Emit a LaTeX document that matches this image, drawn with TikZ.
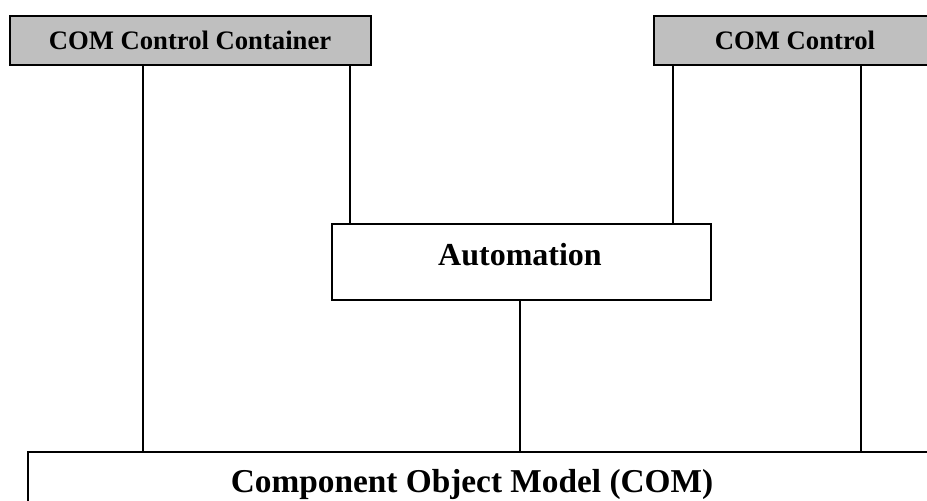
\documentclass[tikz,border=0pt]{standalone}
\usepackage{fontspec}
\setmainfont{Liberation Serif}
\begin{document}
\begin{tikzpicture}[x=0.75pt,y=-0.75pt,
  box/.style={draw=black, line width=1.4pt, inner sep=0pt, anchor=north west},
  topbox/.style={box, fill=black!25},
  lbl/.style={anchor=base, inner sep=0pt, font=\bfseries},
  link/.style={draw=black, line width=1pt}]
\useasboundingbox (0,0) rectangle (927,500);
\begin{scope}
\clip (0,0) rectangle (927,500);
% top blocks
\node[topbox, minimum width=361*0.75pt, minimum height=49*0.75pt] (ccc) at (9,15) {};
\node[lbl, font=\bfseries\fontsize{20}{24}\selectfont] (ccct) at (190,49) {COM Control Container};
\node[topbox, minimum width=290*0.75pt, minimum height=49*0.75pt] (cc) at (653,15) {};
\node[lbl, font=\bfseries\fontsize{20}{24}\selectfont] (cct) at (795,49) {COM Control};
% middle block
\node[box, minimum width=379*0.75pt, minimum height=76*0.75pt] (auto) at (331,223) {};
\node[lbl, font=\bfseries\fontsize{24}{28}\selectfont] (autot) at (520,265) {Automation};
% bottom block
\node[box, minimum width=920*0.75pt, minimum height=90*0.75pt] (com) at (27,451) {};
\node[lbl, font=\bfseries\fontsize{25}{30}\selectfont] (comt) at (472,492) {Component Object Model (COM)};
\end{scope}
% connectors
\coordinate (a1) at (143,0);
\draw[link] (ccc.south -| a1) -- (com.north -| a1);
\coordinate (a2) at (350,0);
\draw[link] (ccc.south -| a2) -- (auto.north -| a2);
\coordinate (a3) at (673,0);
\draw[link] (cc.south -| a3) -- (auto.north -| a3);
\coordinate (a4) at (861,0);
\draw[link] (cc.south -| a4) -- (com.north -| a4);
\coordinate (a5) at (520,0);
\draw[link] (auto.south -| a5) -- (com.north -| a5);
\end{tikzpicture}
\end{document}
